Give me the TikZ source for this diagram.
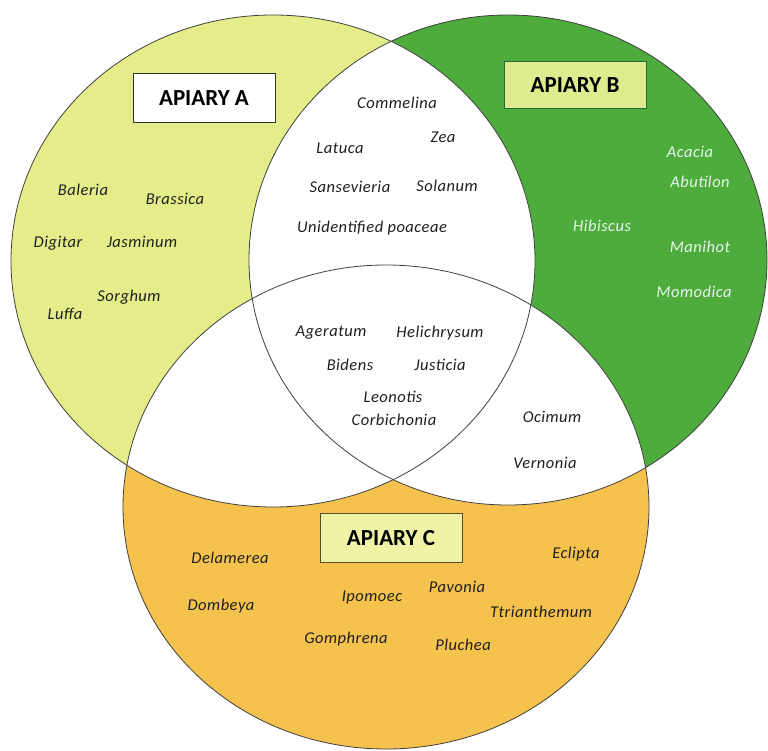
\documentclass[tikz,border=0pt]{standalone}
\usepackage{fontspec}
\setmainfont{Carlito}
\newfontfamily\speciesfont[LetterSpace=3]{Carlito}
\definecolor{limeA}{RGB}{229,237,138}
\definecolor{greenB}{RGB}{78,172,60}
\definecolor{orangeC}{RGB}{246,194,78}
\definecolor{boxB}{RGB}{222,235,142}
\definecolor{boxBline}{RGB}{38,105,60}
\definecolor{boxC}{RGB}{240,243,166}
\definecolor{boxCline}{RGB}{85,78,40}
\definecolor{paletext}{RGB}{232,244,240}
\begin{document}
\begin{tikzpicture}[x=1pt,y=-1pt,
  species/.style={font=\speciesfont\fontsize{16.5}{18}\selectfont\itshape, text=black!88, inner sep=0pt},
  palespecies/.style={species, text=paletext},
  apiary/.style={draw, line width=0.9pt, minimum width=142pt, minimum height=49pt,
                 font=\fontsize{23}{25}\selectfont\bfseries, inner sep=0pt},
  rim/.style={draw=black!75, line width=0.8pt}]
\useasboundingbox (0,0) rectangle (768,751);

% set centres
\coordinate (cA) at (273,261);
\coordinate (cB) at (508,260);
\coordinate (cC) at (386,507);

% coloured discs
\fill[limeA]   (cA) ellipse [x radius=262, y radius=246];
\fill[greenB]  (cB) ellipse [x radius=259, y radius=245];
\fill[orangeC] (cC) ellipse [x radius=263, y radius=242];

% overlaps are left white
\begin{scope}
  \clip (cA) ellipse [x radius=262, y radius=246];
  \fill[white] (cB) ellipse [x radius=259, y radius=245];
  \fill[white] (cC) ellipse [x radius=263, y radius=242];
\end{scope}
\begin{scope}
  \clip (cB) ellipse [x radius=259, y radius=245];
  \fill[white] (cC) ellipse [x radius=263, y radius=242];
\end{scope}

% outlines
\draw[rim] (cA) ellipse [x radius=262, y radius=246];
\draw[rim] (cB) ellipse [x radius=259, y radius=245];
\draw[rim] (cC) ellipse [x radius=263, y radius=242];

% set titles
\node[apiary, fill=white, draw=black!80] (tA) at (204,98) {APIARY A};
\node[apiary, fill=boxB, draw=boxBline, minimum height=47pt] (tB) at (575,85) {APIARY B};
\node[apiary, fill=boxC, draw=boxCline] (tC) at (391,538) {APIARY C};

% apiary A only
\node[species] (baleria)  at (83,190)  {Baleria};
\node[species] (brassica) at (175,199) {Brassica};
\node[species] (digitar)  at (58,243)  {Digitar};
\node[species] (jasminum) at (142,242) {Jasminum};
\node[species] (sorghum)  at (129,297) {Sorghum};
\node[species] (luffa)    at (65,314)  {Luffa};

% apiary A and B
\node[species] (commelina) at (397,103) {Commelina};
\node[species] (latuca)    at (340,148) {Latuca};
\node[species] (zea)       at (443,137) {Zea};
\node[species] (sansev)    at (350,187) {Sansevieria};
\node[species] (solanum)   at (447,186) {Solanum};
\node[species] (poaceae)   at (372,228) {Unidentified poaceae};

% apiary B only
\node[palespecies] (acacia)   at (690,152) {Acacia};
\node[palespecies] (abutilon) at (700,182) {Abutilon};
\node[palespecies] (hibiscus) at (602,226) {Hibiscus};
\node[palespecies] (manihot)  at (700,247) {Manihot};
\node[palespecies] (momodica) at (694,292) {Momodica};

% all three apiaries
\node[species] (ageratum)    at (331,333) {Ageratum};
\node[species] (helichrysum) at (440,333) {Helichrysum};
\node[species] (bidens)      at (350,365) {Bidens};
\node[species] (justicia)    at (440,365) {Justicia};
\node[species] (leonotis)    at (393,397) {Leonotis};
\node[species] (corbichonia) at (394,420) {Corbichonia};

% apiary B and C
\node[species] (ocimum)   at (552,417) {Ocimum};
\node[species] (vernonia) at (545,463) {Vernonia};

% apiary C only
\node[species] (delamerea)  at (230,558) {Delamerea};
\node[species] (dombeya)    at (221,606) {Dombeya};
\node[species] (ipomoec)    at (372,598) {Ipomoec};
\node[species] (pavonia)    at (457,587) {Pavonia};
\node[species] (eclipta)    at (576,554) {Eclipta};
\node[species] (ttrianth)   at (541,612) {Ttrianthemum};
\node[species] (gomphrena)  at (346,639) {Gomphrena};
\node[species] (pluchea)    at (463,645) {Pluchea};
\end{tikzpicture}
\end{document}
